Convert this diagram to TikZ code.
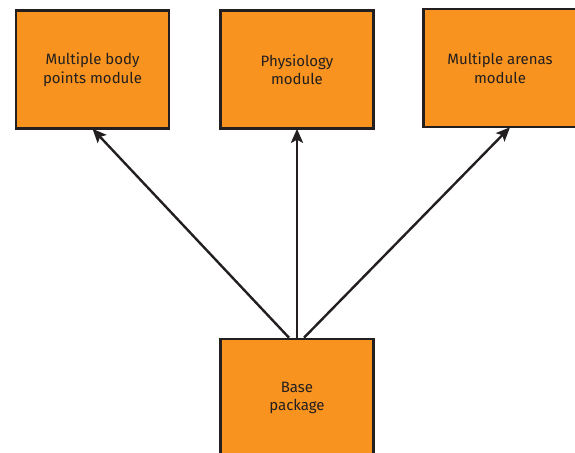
\documentclass[tikz,border=0pt]{standalone}
\usepackage{fontspec}
\setmainfont{Fira Sans}
\usetikzlibrary{arrows.meta}
\definecolor{boxorange}{HTML}{F7931E}
\definecolor{boxline}{HTML}{231F20}
\begin{document}
\begin{tikzpicture}[x=1pt,y=-1pt,
  modbox/.style={draw=boxline,line width=2.6pt,fill=boxorange,minimum width=153pt,minimum height=118pt,inner sep=0pt,align=center,font=\fontsize{15}{18.5}\selectfont,text=boxline},
  conn/.style={draw=boxline,line width=2.4pt,-{Stealth[length=14pt,width=12pt,inset=3pt]}}]
\useasboundingbox (0,0) rectangle (575,452);
\node[modbox] (left) at (92.5,69.5) {Multiple body\\points module};
\node[modbox] (mid) at (297,69.5) {Physiology\\module};
\node[modbox] (right) at (500,68) {Multiple arenas\\module};
\node[modbox] (base) at (297,398) {Base\\package};
\draw[conn] ([xshift=-8pt]base.north) -- ([yshift=1pt]left.south);
\draw[conn] (base.north) -- ([yshift=1pt]mid.south);
\draw[conn] ([xshift=7pt]base.north) -- ([xshift=10pt,yshift=1pt]right.south);
\end{tikzpicture}
\end{document}
